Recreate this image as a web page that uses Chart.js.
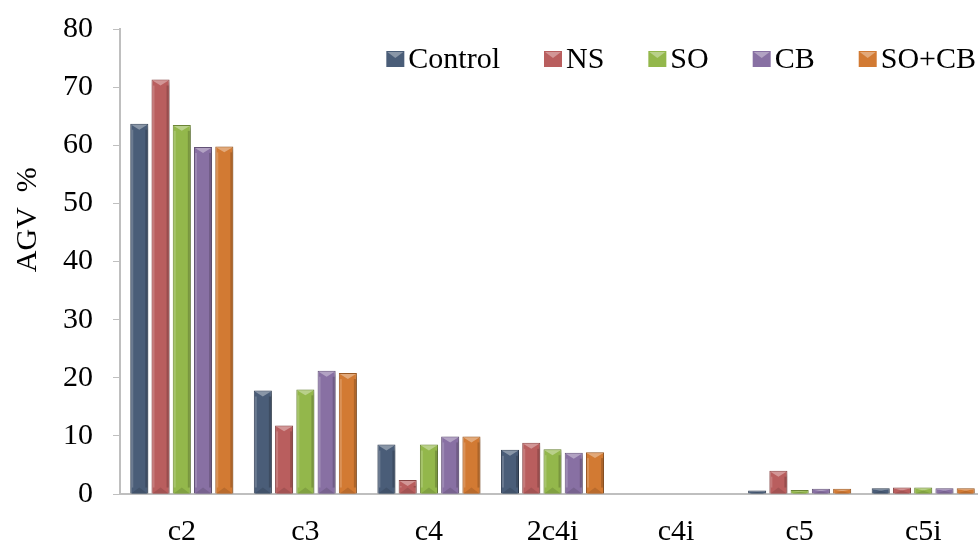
<!DOCTYPE html>
<html>
<head>
<meta charset="utf-8">
<script src="https://cdn.jsdelivr.net/npm/chart.js@4.4.1/dist/chart.umd.min.js"></script>
<style>
  html, body { margin: 0; padding: 0; background: #fff; overflow: hidden; }
  #wrap { width: 978px; height: 545px; position: relative; overflow: hidden; }
  #inner { position: absolute; left: 0; top: -9px; width: 985px; height: 579px; }
</style>
</head>
<body>
<div id="wrap"><div id="inner"><canvas id="Chart"></canvas></div></div>
<script>
const categories = ["c2", "c3", "c4", "2c4i", "c4i", "c5", "c5i"];
const seriesNames = ["Control", "NS", "SO", "CB", "SO+CB"];
const control = [63.7, 17.8, 8.5, 7.6, 0, 0.6, 1.0];
const ns = [71.3, 11.8, 2.4, 8.8, 0, 4.0, 1.1];
const so = [63.5, 18.0, 8.5, 7.7, 0, 0.7, 1.1];
const cb = [59.7, 21.2, 9.9, 7.1, 0, 0.9, 1.0];
const soCb = [59.8, 20.8, 9.9, 7.2, 0, 0.9, 1.0];
const yMin = 0;
const yMax = 80;
const yStep = 10;
const yTitle = "AGV  %";

const colors = ["#4a5d78", "#b95e5e", "#93b74b", "#8870a3", "#d27a33"];
const FONT = "Liberation Serif";

function mix(hex, target, amt) {
  const n = parseInt(hex.slice(1), 16);
  const r = (n >> 16) & 255, g = (n >> 8) & 255, b = n & 255;
  const t = target === "white" ? 255 : 0;
  const f = (c) => Math.round(c + (t - c) * amt);
  return `rgb(${f(r)}, ${f(g)}, ${f(b)})`;
}

const seriesData = [control, ns, so, cb, soCb];

// bevel look: light triangle on top, darker one at the bottom, edge strips
const bevel = {
  id: "bevel",
  beforeDatasetsDraw(chart) {
    const c = chart.ctx;
    c.save();
    c.shadowColor = "rgba(0,0,0,0.28)";
    c.shadowBlur = 4;
    c.shadowOffsetX = 2;
    c.shadowOffsetY = 2;
  },
  afterDatasetsDraw(chart) {
    const c = chart.ctx;
    c.restore();
    chart.data.datasets.forEach((ds, i) => {
      const meta = chart.getDatasetMeta(i);
      const col = colors[i];
      meta.data.forEach((bar) => {
        const { x, y, base, width } = bar.getProps(["x", "y", "base", "width"], true);
        const h = base - y;
        if (h <= 0.5) return;
        const l = x - width / 2, r = x + width / 2;
        const t = Math.min(width * 0.33, h / 2);
        c.save();
        // left / right edges
        c.fillStyle = mix(col, "white", 0.18);
        c.fillRect(l + 1, y + t, 2, h - 2 * t);
        c.fillStyle = mix(col, "black", 0.18);
        c.fillRect(r - 3, y + t, 2, h - 2 * t);
        // top triangle
        c.beginPath();
        c.moveTo(l + 1, y + 1);
        c.lineTo(r - 1, y + 1);
        c.lineTo(x, y + t);
        c.closePath();
        c.fillStyle = mix(col, "white", 0.35);
        c.fill();
        // bottom triangle
        c.beginPath();
        c.moveTo(l + 1, base);
        c.lineTo(r - 1, base);
        c.lineTo(x, base - t);
        c.closePath();
        c.fillStyle = mix(col, "black", 0.12);
        c.fill();
        c.restore();
      });
    });
  },
};

// legend drawn inside the plot, top right, box close to the text
const insideLegend = {
  id: "insideLegend",
  afterDraw(chart) {
    const c = chart.ctx;
    const area = chart.chartArea;
    c.save();
    c.font = `30px "${FONT}"`;
    c.textBaseline = "middle";
    const box = 18, gap = 4, spacing = 44;
    const widths = chart.data.datasets.map((ds) => c.measureText(ds.label).width);
    let total = 0;
    widths.forEach((w, i) => { total += box + gap + w + (i < widths.length - 1 ? spacing : 0); });
    let x = area.right - 9 - total;
    const yc = area.top + 30;
    chart.data.datasets.forEach((ds, i) => {
      const col = colors[i];
      c.fillStyle = col;
      c.fillRect(x, yc - 8, box, 16);
      c.beginPath();
      c.moveTo(x + 1, yc - 7);
      c.lineTo(x + box - 1, yc - 7);
      c.lineTo(x + box / 2, yc - 1);
      c.closePath();
      c.fillStyle = mix(col, "white", 0.35);
      c.fill();
      c.fillStyle = "#000";
      c.textAlign = "left";
      c.fillText(ds.label, x + box + gap, yc + 1);
      x += box + gap + widths[i] + spacing;
    });
    c.restore();
  },
};

// y title sits a bit above the middle of the axis
const yTitlePlugin = {
  id: "yTitle",
  afterDraw(chart) {
    const c = chart.ctx;
    const area = chart.chartArea;
    c.save();
    c.translate(area.left - 92, area.top + (area.bottom - area.top) * 0.41);
    c.rotate(-Math.PI / 2);
    c.font = `30px "${FONT}"`;
    c.fillStyle = "#000";
    c.textAlign = "center";
    c.textBaseline = "middle";
    c.fillText(yTitle, 0, 0);
    c.restore();
  },
};

const ctx = document.getElementById("Chart");
const chart = new Chart(ctx, {
  type: "bar",
  data: {
    labels: categories,
    datasets: seriesNames.map((name, i) => ({
      label: name,
      data: seriesData[i],
      backgroundColor: colors[i],
      borderColor: mix(colors[i], "black", 0.25),
      borderWidth: (c) => (c.raw > 0 ? 1 : 0),
      categoryPercentage: 0.86,
      barPercentage: 0.85,
    })),
  },
  options: {
    responsive: true,
    maintainAspectRatio: false,
    animation: false,
    layout: { padding: { left: 43, top: 0, right: 0, bottom: 0 } },
    plugins: {
      legend: { display: false },
      tooltip: { enabled: false },
    },
    scales: {
      x: {
        grid: { display: false, drawTicks: false },
        border: { display: true, color: "#bfbfbf", width: 2 },
        ticks: { color: "#000", font: { family: FONT, size: 30 }, padding: 20 },
      },
      y: {
        min: yMin,
        max: yMax,
        ticks: { stepSize: yStep, color: "#000", font: { family: FONT, size: 30 }, padding: 20 },
        grid: { drawOnChartArea: false, drawTicks: true, tickLength: 7, color: "#bfbfbf" },
        border: { display: true, color: "#bfbfbf", width: 2 },
      },
    },
  },
  plugins: [bevel, insideLegend, yTitlePlugin],
});
</script>
</body>
</html>
